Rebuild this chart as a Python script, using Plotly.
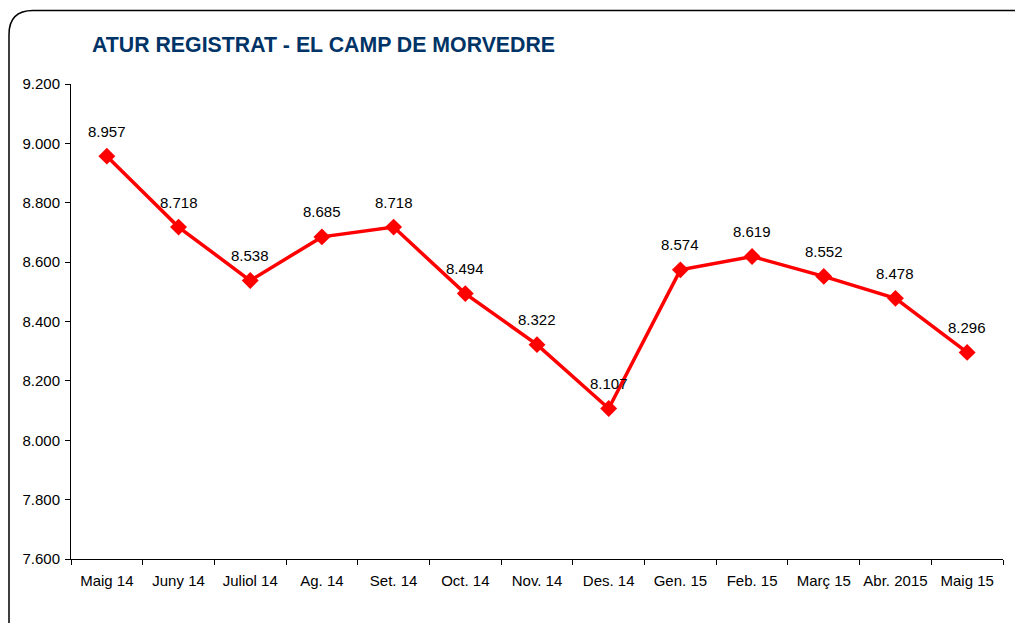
import plotly.graph_objects as go

categories = ["Maig 14", "Juny 14", "Juliol 14", "Ag. 14", "Set. 14", "Oct. 14", "Nov. 14",
              "Des. 14", "Gen. 15", "Feb. 15", "Març 15", "Abr. 2015", "Maig 15"]
values = [8957, 8718, 8538, 8685, 8718, 8494, 8322, 8107, 8574, 8619, 8552, 8478, 8296]
y_ticks = [7600, 7800, 8000, 8200, 8400, 8600, 8800, 9000, 9200]
title_text = "ATUR REGISTRAT - EL CAMP DE MORVEDRE"

def fmt(v):
    return f"{v:,}".replace(",", ".")

# page has 8px body margin; work in page coordinates, convert to figure coordinates
OFF = 8
W, H = 1023 - 2 * OFF, 631 - 2 * OFF
PL, PR, PT, PB = 71, 1003, 84, 559  # plot area in page coords
L = PL - OFF
R = W - (PR - OFF)
T = PT - OFF
B = H - (PB - OFF)
pw, ph = PR - PL, PB - PT

def px(x):
    return (x - PL) / pw

def py(y):
    return (PB - y) / ph

fig = go.Figure()
fig.add_trace(go.Scatter(
    x=categories, y=values, mode="lines+markers",
    line=dict(color="#FF0000", width=3.5),
    marker=dict(symbol="diamond", size=13, color="#FF0000"),
    hoverinfo="skip", showlegend=False,
))

for c, v in zip(categories, values):
    fig.add_annotation(x=c, y=v, text=fmt(v), showarrow=False, yshift=25,
                       font=dict(family="Liberation Sans, Arial", size=15, color="#000000"))

fig.add_annotation(xref="paper", yref="paper", x=px(90), y=py(45), xanchor="left", yanchor="middle",
                   text="<b>" + title_text + "</b>", showarrow=False,
                   font=dict(family="Liberation Sans, Arial", size=21.3, color="#003366"))

# rounded border
x0, x1 = px(9), px(1040)
y0, y1 = py(650), py(10.5)
rx, ry = 24 / pw, 24 / ph
path = (f"M {x0},{y1-ry} Q {x0},{y1} {x0+rx},{y1} L {x1-rx},{y1} Q {x1},{y1} {x1},{y1-ry} "
        f"L {x1},{y0+ry} Q {x1},{y0} {x1-rx},{y0} L {x0+rx},{y0} Q {x0},{y0} {x0},{y0+ry} Z")
fig.add_shape(type="path", xref="paper", yref="paper", path=path,
              line=dict(color="#000000", width=1.5), layer="below")

fig.update_layout(
    width=W, height=H,
    margin=dict(l=L, r=R, t=T, b=B, autoexpand=False),
    paper_bgcolor="white", plot_bgcolor="white",
    separators=",.",
    font=dict(family="Liberation Sans, Arial", size=15, color="#000000"),
    xaxis=dict(
        type="category", showgrid=False, showline=True, linecolor="#000000", linewidth=1,
        ticks="outside", ticklen=5, tickcolor="#000000", tickson="boundaries", tickangle=0,
        tickfont=dict(size=15), range=[-0.5, len(categories) - 0.5], fixedrange=True,
        automargin=False, ticklabelstandoff=8,
    ),
    yaxis=dict(
        range=[y_ticks[0], y_ticks[-1]], tickvals=y_ticks, ticktext=[fmt(t) for t in y_ticks],
        showgrid=False, showline=True, linecolor="#000000", linewidth=1, zeroline=False,
        ticks="outside", ticklen=5, tickcolor="#000000", tickfont=dict(size=15), fixedrange=True,
        automargin=False, ticklabelstandoff=2,
    ),
)

fig.write_html("out.html")
